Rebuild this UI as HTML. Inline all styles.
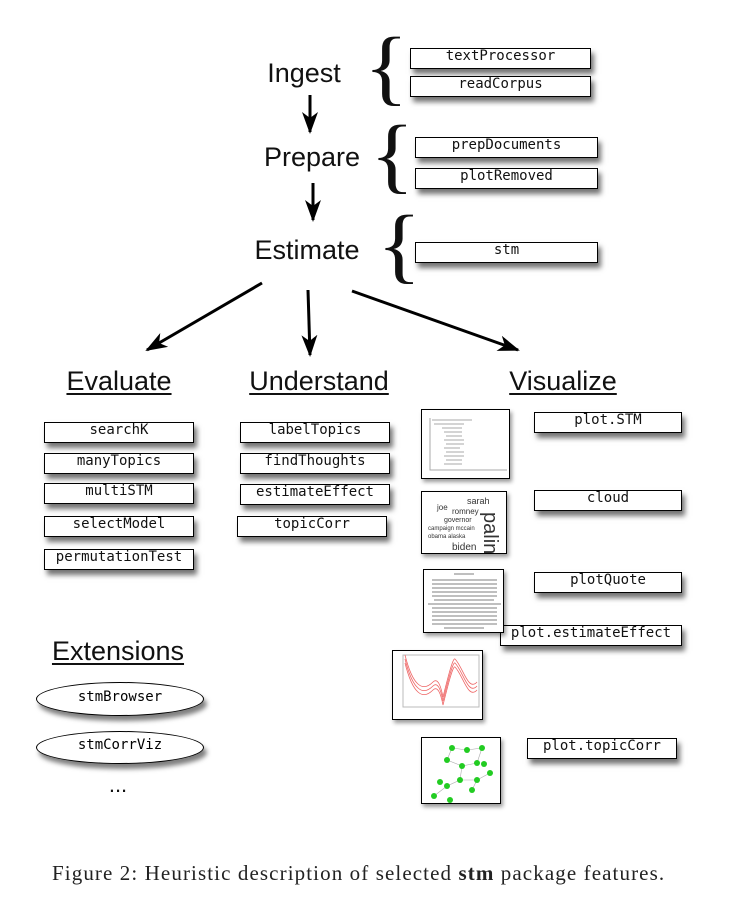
<!DOCTYPE html>
<html><head><meta charset="utf-8"><style>
body{margin:0;background:#fff;width:733px;height:914px;position:relative;overflow:hidden;font-family:"Liberation Sans",sans-serif}
.b{position:absolute;border:1.5px solid #000;background:#fff;box-sizing:border-box;font-family:"DejaVu Sans Mono","Liberation Mono",monospace;font-size:14px;text-align:center;line-height:15px;box-shadow:3px 5px 5px rgba(0,0,0,.55);color:#111}
.h{position:absolute;font-size:27px;color:#111;transform:translateX(-50%);white-space:nowrap}
.u{text-decoration:underline;text-decoration-thickness:2px;text-underline-offset:3px}
.t{position:absolute;border:1.5px solid #000;background:#fff;box-sizing:border-box;box-shadow:2px 3px 4px rgba(0,0,0,.4);overflow:hidden}
.e{position:absolute;border:1.5px solid #000;background:#fff;border-radius:50%;box-sizing:border-box;font-family:"DejaVu Sans Mono","Liberation Mono",monospace;font-size:14px;text-align:center;box-shadow:3px 5px 5px rgba(0,0,0,.5)}
.br{position:absolute;font-family:'Liberation Serif',serif;font-size:84px;line-height:84px;color:#111;transform:scaleX(1.1)}
</style></head><body>
<svg width="733" height="914" style="position:absolute;left:0;top:0">
<defs>
<marker id="b" markerWidth="22" markerHeight="16" refX="20" refY="8" orient="auto" markerUnits="userSpaceOnUse"><path d="M0,0 L22,8 L0,16 L6,8 z" fill="#000"/></marker></defs>
<g stroke="#000" stroke-width="3" fill="none">
<line x1="310" y1="95" x2="310" y2="132" marker-end="url(#b)"/>
<line x1="313" y1="183" x2="313" y2="220" marker-end="url(#b)"/>
<line x1="262" y1="283" x2="147" y2="350" marker-end="url(#b)"/>
<line x1="308" y1="290" x2="310" y2="355" marker-end="url(#b)"/>
<line x1="352" y1="291" x2="518" y2="350" marker-end="url(#b)"/>
</g>
</svg>
<div class="br" style="left:366px;top:26px">{</div>
<div class="br" style="left:372px;top:114px">{</div>
<div class="br" style="left:379px;top:204px">{</div>

<div class="h" style="left:304px;top:58px">Ingest</div>
<div class="h" style="left:312px;top:142px">Prepare</div>
<div class="h" style="left:307px;top:235px">Estimate</div>
<div class="h u" style="left:119px;top:366px">Evaluate</div>
<div class="h u" style="left:319px;top:366px">Understand</div>
<div class="h u" style="left:563px;top:366px">Visualize</div>
<div class="h u" style="left:118px;top:636px">Extensions</div>
<div class="h" style="left:118px;top:772px;font-size:22px">...</div>

<div class="b" style="left:410px;top:48px;width:181px;height:21px">textProcessor</div>
<div class="b" style="left:410px;top:76px;width:181px;height:21px">readCorpus</div>
<div class="b" style="left:415px;top:137px;width:183px;height:21px">prepDocuments</div>
<div class="b" style="left:415px;top:168px;width:183px;height:21px">plotRemoved</div>
<div class="b" style="left:415px;top:242px;width:183px;height:21px">stm</div>

<div class="b" style="left:44px;top:422px;width:150px;height:21px">searchK</div>
<div class="b" style="left:44px;top:453px;width:150px;height:21px">manyTopics</div>
<div class="b" style="left:44px;top:483px;width:150px;height:21px">multiSTM</div>
<div class="b" style="left:44px;top:516px;width:150px;height:21px">selectModel</div>
<div class="b" style="left:44px;top:549px;width:150px;height:21px">permutationTest</div>

<div class="b" style="left:240px;top:422px;width:150px;height:21px">labelTopics</div>
<div class="b" style="left:240px;top:453px;width:150px;height:21px">findThoughts</div>
<div class="b" style="left:240px;top:484px;width:150px;height:21px">estimateEffect</div>
<div class="b" style="left:237px;top:516px;width:150px;height:21px">topicCorr</div>

<div class="b" style="left:534px;top:412px;width:148px;height:21px">plot.STM</div>
<div class="b" style="left:534px;top:490px;width:148px;height:21px">cloud</div>
<div class="b" style="left:534px;top:572px;width:148px;height:21px">plotQuote</div>
<div class="b" style="left:500px;top:625px;width:182px;height:21px">plot.estimateEffect</div>
<div class="b" style="left:527px;top:738px;width:150px;height:21px">plot.topicCorr</div>

<div class="t" style="left:421px;top:409px;width:89px;height:70px"><svg width="89" height="70"><g stroke="#aaa" stroke-width="1" fill="none"><path d="M8,8 L8,60 L85,60"/><path d="M10,10 h40 M12,14 h30 M20,18 h20 M22,22 h18 M24,26 h16 M22,30 h20 M24,34 h18 M22,38 h16 M24,42 h18 M22,46 h20 M24,50 h16 M22,54 h18"/></g></svg></div>
<div class="t" style="left:421px;top:491px;width:86px;height:63px"><svg width="86" height="63" font-family="Liberation Sans" fill="#333"><text x="45" y="12" font-size="9">sarah</text><text x="15" y="18" font-size="8">joe</text><text x="30" y="22" font-size="8">romney</text><text x="22" y="30" font-size="7">governor</text><text x="6" y="38" font-size="6">campaign mccain</text><text x="6" y="46" font-size="6">obama alaska</text><text x="30" y="58" font-size="10">biden</text><text x="62" y="20" font-size="20" transform="rotate(90 62 20)">palin</text></svg></div>
<div class="t" style="left:423px;top:569px;width:81px;height:64px"><svg width="81" height="64"><g stroke="#999" stroke-width="1.2" fill="none"><path d="M30,4 h20 M8,10 h65 M8,14 h65 M8,18 h65 M8,22 h65 M8,26 h65 M10,30 h60 M4,34 h73 M8,38 h65 M8,42 h65 M8,46 h65 M8,50 h65 M8,54 h65 M20,58 h40"/></g></svg></div>
<div class="t" style="left:392px;top:650px;width:91px;height:70px"><svg width="91" height="70"><rect x="10" y="4" width="76" height="52" fill="none" stroke="#bbb"/><g stroke="#e66" fill="none" stroke-width="0.8"><path d="M12,8 C20,40 30,45 40,35 C45,30 48,40 50,50 C55,30 60,10 62,12 C70,20 75,45 84,35"/><path d="M12,12 C20,44 30,49 40,39 C45,34 48,44 50,54 C55,34 60,14 62,16 C70,24 75,49 84,39"/><path d="M12,4 C20,36 30,41 40,31 C45,26 48,36 50,46 C55,26 60,6 62,8 C70,16 75,41 84,31"/></g></svg></div>
<div class="t" style="left:421px;top:737px;width:80px;height:67px"><svg width="80" height="67"><g stroke="#aaa" stroke-width=".6" fill="none"><path d="M30,10 L45,12 L60,10 L55,25 L40,28 L25,22 L30,10 M40,28 L38,42 L25,48 L12,58 M38,42 L55,42 L68,35 M55,42 L50,52"/></g><g fill="#2c2"><circle cx="30" cy="10" r="3"/><circle cx="45" cy="12" r="3"/><circle cx="60" cy="10" r="3"/><circle cx="55" cy="25" r="3"/><circle cx="40" cy="28" r="3"/><circle cx="25" cy="22" r="3"/><circle cx="62" cy="26" r="3"/><circle cx="68" cy="35" r="3"/><circle cx="38" cy="42" r="3"/><circle cx="55" cy="42" r="3"/><circle cx="25" cy="48" r="3"/><circle cx="18" cy="44" r="3"/><circle cx="12" cy="58" r="3"/><circle cx="50" cy="52" r="3"/><circle cx="28" cy="62" r="3"/></g></svg></div>

<div class="e" style="left:36px;top:682px;width:168px;height:34px;line-height:28px">stmBrowser</div>
<div class="e" style="left:36px;top:731px;width:168px;height:33px;line-height:27px">stmCorrViz</div>

<div style="position:absolute;left:52px;top:861px;font-family:'Liberation Serif',serif;font-size:21px;letter-spacing:1.1px;color:#222;white-space:nowrap">Figure 2: Heuristic description of selected <b>stm</b> package features.</div>
</body></html>
